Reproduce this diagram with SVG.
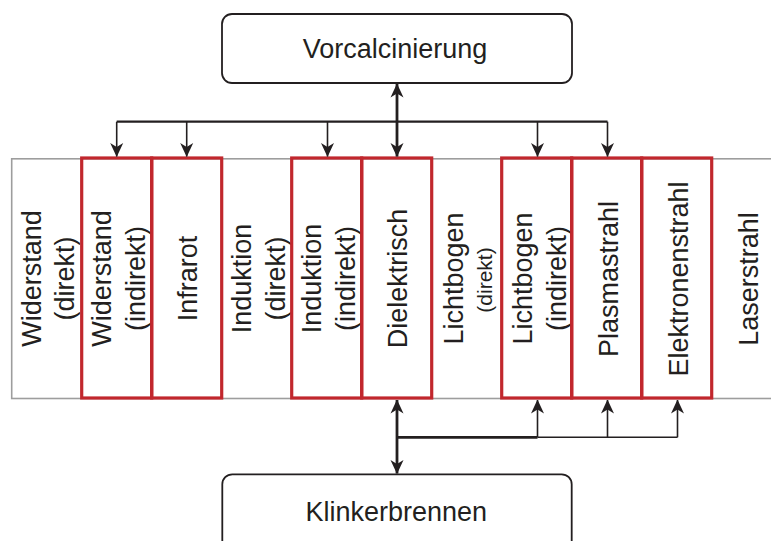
<svg xmlns="http://www.w3.org/2000/svg" width="771" height="541" viewBox="0 0 771 541">
<style>
.box{fill:#fff;stroke:#231f20;stroke-width:1.8}
.band{fill:#fff;stroke:#9d9d9d;stroke-width:1.6}
.red{fill:none;stroke:#c1272d;stroke-width:3.2}
.t{font-family:"Liberation Sans",Arial,sans-serif;font-size:27px;fill:#231f20}
.ts{font-family:"Liberation Sans",Arial,sans-serif;font-size:21px;fill:#231f20}
.c{fill:none;stroke:#231f20}
.w1{stroke-width:1.6}
.w2{stroke-width:2.2}
.w3{stroke-width:2.8}
</style>
<defs>
<marker id="ah" viewBox="0 0 14 14" refX="13.5" refY="7" markerWidth="14" markerHeight="14" markerUnits="userSpaceOnUse" orient="auto-start-reverse">
<path d="M0,0.5 L14,7 L0,13.5 L4,7 z" fill="#231f20"/>
</marker>
</defs>
<rect class="band" x="11.7" y="158.8" width="770" height="239.7"/>
<g id="n-widerstand-direkt">
<text class="t" text-anchor="middle" transform="translate(40.5,278.5) rotate(-90)">Widerstand</text>
<text class="t" text-anchor="middle" transform="translate(74,278.5) rotate(-90)">(direkt)</text>
</g>
<g id="n-widerstand-indirekt">
<rect class="red" x="81.7" y="158" width="70" height="240"/>
<text class="t" text-anchor="middle" transform="translate(110.5,278.5) rotate(-90)">Widerstand</text>
<text class="t" text-anchor="middle" transform="translate(144.5,278.5) rotate(-90)">(indirekt)</text>
</g>
<g id="n-infrarot">
<rect class="red" x="151.7" y="158" width="70" height="240"/>
<text class="t" text-anchor="middle" transform="translate(197,278.5) rotate(-90)">Infrarot</text>
</g>
<g id="n-induktion-direkt">
<text class="t" text-anchor="middle" transform="translate(250.5,278.5) rotate(-90)">Induktion</text>
<text class="t" text-anchor="middle" transform="translate(285,278.5) rotate(-90)">(direkt)</text>
</g>
<g id="n-induktion-indirekt">
<rect class="red" x="291.7" y="158" width="70" height="240"/>
<text class="t" text-anchor="middle" transform="translate(321,278.5) rotate(-90)">Induktion</text>
<text class="t" text-anchor="middle" transform="translate(355,278.5) rotate(-90)">(indirekt)</text>
</g>
<g id="n-dielektrisch">
<rect class="red" x="361.7" y="158" width="70" height="240"/>
<text class="t" text-anchor="middle" transform="translate(407,278.5) rotate(-90)">Dielektrisch</text>
</g>
<g id="n-lichtbogen-direkt">
<text class="t" text-anchor="middle" transform="translate(463,278.5) rotate(-90)">Lichtbogen</text>
<text class="ts" text-anchor="middle" transform="translate(492,280) rotate(-90)">(direkt)</text>
</g>
<g id="n-lichtbogen-indirekt">
<rect class="red" x="501.7" y="158" width="70" height="240"/>
<text class="t" text-anchor="middle" transform="translate(531.5,278.5) rotate(-90)">Lichtbogen</text>
<text class="t" text-anchor="middle" transform="translate(566,278.5) rotate(-90)">(indirekt)</text>
</g>
<g id="n-plasmastrahl">
<rect class="red" x="571.7" y="158" width="70" height="240"/>
<text class="t" text-anchor="middle" transform="translate(618,279) rotate(-90)">Plasmastrahl</text>
</g>
<g id="n-elektronenstrahl">
<rect class="red" x="641.7" y="158" width="70" height="240"/>
<text class="t" text-anchor="middle" transform="translate(688,279) rotate(-90)">Elektronenstrahl</text>
</g>
<g id="n-laserstrahl">
<text class="t" text-anchor="middle" transform="translate(758,279) rotate(-90)">Laserstrahl</text>
</g>
<g id="n-vorcalcinierung">
<rect class="box" x="222" y="14" width="350" height="69" rx="10"/>
<text class="t" x="395" y="58.3" text-anchor="middle">Vorcalcinierung</text>
</g>
<g id="n-klinkerbrennen">
<rect class="box" x="222.3" y="474.3" width="349.4" height="80" rx="10"/>
<text class="t" x="396.3" y="520.7" text-anchor="middle">Klinkerbrennen</text>
</g>
<g id="connectors">
<line class="c w3" x1="397" y1="84" x2="397" y2="156.5" marker-start="url(#ah)" marker-end="url(#ah)"/>
<line class="c w2" x1="116.7" y1="121.7" x2="607.5" y2="121.7"/>
<polyline class="c w1" points="116.7,121.7 116.7,156.5" marker-end="url(#ah)"/>
<polyline class="c w1" points="186.7,121.7 186.7,156.5" marker-end="url(#ah)"/>
<polyline class="c w1" points="327.5,121.7 327.5,156.5" marker-end="url(#ah)"/>
<polyline class="c w1" points="537.5,121.7 537.5,156.5" marker-end="url(#ah)"/>
<polyline class="c w1" points="607.5,121.7 607.5,156.5" marker-end="url(#ah)"/>
<line class="c w3" x1="397" y1="400" x2="397" y2="473.5" marker-start="url(#ah)" marker-end="url(#ah)"/>
<line class="c w3" x1="397" y1="437.3" x2="537.5" y2="437.3"/>
<line class="c w1" x1="537.5" y1="437.3" x2="677.5" y2="437.3"/>
<polyline class="c w1" points="537.5,437.3 537.5,400" marker-end="url(#ah)"/>
<polyline class="c w1" points="607.5,437.3 607.5,400" marker-end="url(#ah)"/>
<polyline class="c w1" points="677.5,437.3 677.5,400" marker-end="url(#ah)"/>
</g>
</svg>
